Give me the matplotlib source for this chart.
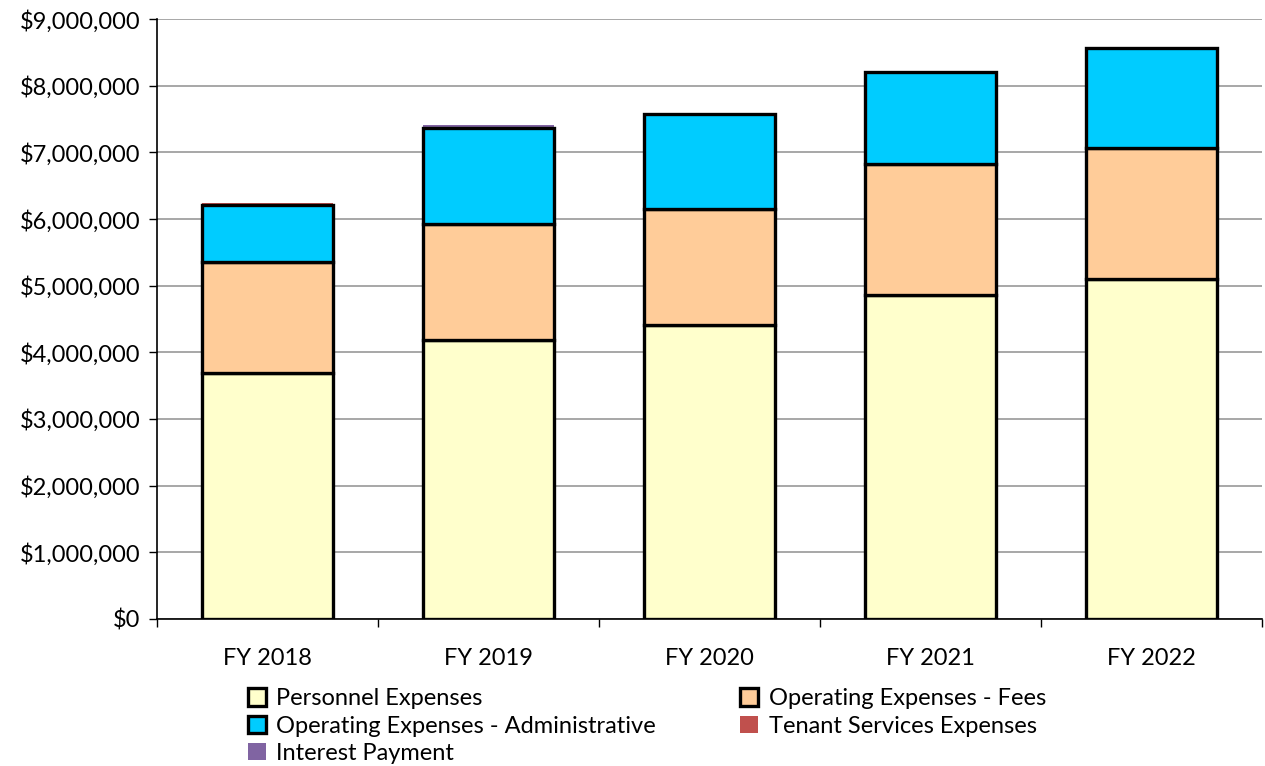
import numpy as np
import matplotlib.pyplot as plt
from matplotlib.ticker import FuncFormatter, FixedLocator

plt.rcParams['font.family'] = ['Lato', 'DejaVu Sans']

years = ['FY 2018', 'FY 2019', 'FY 2020', 'FY 2021', 'FY 2022']
personnel = [3690000, 4190000, 4415000, 4865000, 5105000]
fees = [1670000, 1740000, 1735000, 1965000, 1965000]
admin = [850000, 1435000, 1420000, 1380000, 1500000]
tenant = [35000, 0, 0, 0, 0]
interest = [0, 45000, 0, 0, 0]

series = [
    ('Personnel Expenses', personnel, '#FFFFCC', True),
    ('Operating Expenses - Fees', fees, '#FFCC99', True),
    ('Operating Expenses - Administrative', admin, '#00CCFF', True),
    ('Tenant Services Expenses', tenant, '#C0504D', False),
    ('Interest Payment', interest, '#8064A2', False),
]

fig = plt.figure(figsize=(12.65, 7.66), dpi=100)
ax = fig.add_axes([0.124, 0.192, 0.8736, 0.783])

x = np.arange(len(years))
bottom = np.zeros(len(years))
handles = []
for name, vals, color, edged in series:
    vals = np.array(vals, dtype=float)
    if edged:
        h = ax.bar(x, vals, 0.59, bottom=bottom, color=color, edgecolor='black',
                   linewidth=2.4, label=name, zorder=3)
    else:
        h = ax.bar(x, vals, 0.59, bottom=bottom, color=color, linewidth=0,
                   label=name, zorder=2)
    handles.append(h)
    bottom += vals

ax.set_ylim(0, 9000000)
ax.set_xlim(-0.5, len(years) - 0.5)
ax.set_yticks(np.arange(0, 9000001, 1000000))
ax.yaxis.set_major_formatter(FuncFormatter(lambda v, p: f'${v:,.0f}'))
ax.grid(axis='y', color='#A0A0A0', linewidth=1.3, zorder=0)

ax.set_xticks(x)
ax.set_xticklabels(years)
ax.xaxis.set_minor_locator(FixedLocator(np.arange(-0.5, len(years), 1.0)))
ax.tick_params(axis='x', which='major', length=0, pad=21, labelsize=17)
ax.tick_params(axis='x', which='minor', length=6, width=1, direction='out')
ax.tick_params(axis='y', length=6, width=1, direction='out', pad=6, labelsize=17)

for s in ['top', 'right']:
    ax.spines[s].set_visible(False)
for s in ['left', 'bottom']:
    ax.spines[s].set_linewidth(1.2)

# legend filled row by row: two entries per row
order = [0, 2, 4, 1, 3]
ax.legend([handles[i] for i in order], [series[i][0] for i in order],
          loc='upper left', bbox_to_anchor=(0.0825, -0.1155), ncol=2, frameon=False,
          fontsize=17, handlelength=0.75, handleheight=0.75, handletextpad=0.45,
          columnspacing=3.56, labelspacing=0.27, borderaxespad=0, borderpad=0)

fig.savefig('out.png', dpi=100)
